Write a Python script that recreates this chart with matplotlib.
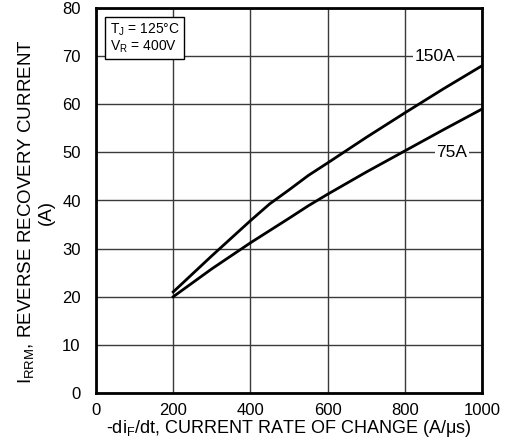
import matplotlib
matplotlib.use("Agg")
import matplotlib.pyplot as plt
import numpy as np

plt.rcParams['font.family'] = ['Liberation Sans', 'DejaVu Sans']
plt.rcParams['mathtext.fontset'] = 'custom'
plt.rcParams['mathtext.rm'] = 'Liberation Sans'
plt.rcParams['mathtext.it'] = 'Liberation Sans'

x_150 = [200, 300, 400, 450, 500, 550, 600, 700, 800, 900, 1000]
y_150 = [21, 28.5, 35.8, 39.3, 42.2, 45.2, 47.8, 53.1, 58.2, 63.2, 68]
x_75 = [200, 300, 400, 500, 550, 600, 700, 800, 900, 1000]
y_75 = [20, 25.8, 31.2, 36.3, 38.9, 41.3, 45.9, 50.3, 54.7, 59]
xticks = [0, 200, 400, 600, 800, 1000]
yticks = [0, 10, 20, 30, 40, 50, 60, 70, 80]

fig = plt.figure(figsize=(5.07, 4.48), dpi=100)
ax = fig.add_axes([96/507, 1-393/448, (482-96)/507, (393-8)/448])
ax.set_xlim(0, 1000)
ax.set_ylim(0, 80)
ax.set_xticks(xticks)
ax.set_yticks(yticks)
ax.tick_params(length=0, labelsize=12)
ax.tick_params(axis='x', pad=7)
ax.tick_params(axis='y', pad=11)
ax.grid(True, color='#3a3a3a', linewidth=1.0)
ax.set_axisbelow(True)
for s in ax.spines.values():
    s.set_linewidth(2)

ax.plot(x_150, y_150, color='black', linewidth=2)
ax.plot(x_75, y_75, color='black', linewidth=2)

ax.text(878, 70, '150A', ha='center', va='center', fontsize=12.5,
        bbox=dict(facecolor='white', edgecolor='none', pad=1))
ax.text(922, 50, '75A', ha='center', va='center', fontsize=12.5,
        bbox=dict(facecolor='white', edgecolor='none', pad=1))

ax.text(35, 73.8, 'T$_\\mathrm{J}$ = 125°C\nV$_\\mathrm{R}$ = 400V', ha='left', va='center',
        fontsize=10, linespacing=1.05,
        bbox=dict(facecolor='white', edgecolor='black', linewidth=1, boxstyle='square,pad=0.3'))

ax.set_xlabel('-di$_\\mathrm{F}$/dt, CURRENT RATE OF CHANGE (A/μs)', fontsize=13, labelpad=0)
ax.set_ylabel('I$_\\mathrm{RRM}$, REVERSE RECOVERY CURRENT\n(A)', fontsize=13.5, labelpad=5, linespacing=1.15)
ax.yaxis.label.set_y(0.47)

fig.savefig('out.png', dpi=100)
